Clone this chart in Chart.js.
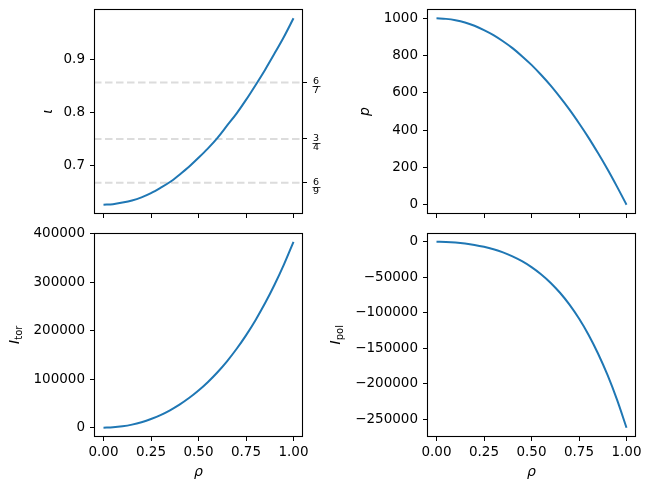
<!DOCTYPE html>
<html>
<head>
<meta charset="utf-8">
<script src="https://cdn.jsdelivr.net/npm/chart.js@4.4.0/dist/chart.umd.min.js"></script>
<style>
  body { margin: 0; background: #fff; }
  #fig { position: relative; width: 651px; height: 491px; overflow: hidden; }
  canvas { position: absolute; }
</style>
</head>
<body>
<div id="fig">
  <canvas id="iotaChart" width="330" height="226" style="left:0;top:0"></canvas>
  <canvas id="pressureChart" width="321" height="226" style="left:330px;top:0"></canvas>
  <canvas id="itorChart" width="330" height="265" style="left:0;top:226px"></canvas>
  <canvas id="ipolChart" width="321" height="265" style="left:330px;top:226px"></canvas>
</div>
<script>
const rho = [0, 0.05, 0.1, 0.15, 0.2, 0.25, 0.3, 0.35, 0.4, 0.45, 0.5, 0.55, 0.6, 0.65, 0.7, 0.75, 0.8, 0.85, 0.9, 0.95, 1];
const iota = [0.625, 0.626, 0.629, 0.633, 0.639, 0.647, 0.657, 0.668, 0.682, 0.697, 0.714, 0.732, 0.752, 0.775, 0.798, 0.824, 0.852, 0.881, 0.912, 0.944, 0.979];
const pressure = [1000, 997, 990, 978, 960, 937, 910, 877, 840, 797, 750, 697, 640, 577, 510, 437, 360, 277, 190, 97, 0];
const iTor = [0, 700, 2820, 6370, 11390, 17950, 26100, 35930, 47540, 61050, 76580, 94280, 114320, 136870, 162120, 190270, 221560, 256220, 294490, 336660, 383000];
const iPol = [0, -260, -1040, -2390, -4360, -7040, -10530, -14960, -20500, -27310, -35610, -45610, -57570, -71770, -88510, -108090, -130880, -157240, -187560, -222270, -261800];

const rhoTicks = [0, 0.25, 0.5, 0.75, 1];
const iotaTicks = [0.7, 0.8, 0.9];
const pressureTicks = [0, 200, 400, 600, 800, 1000];
const iTorTicks = [0, 100000, 200000, 300000, 400000];
const iPolTicks = [0, -50000, -100000, -150000, -200000, -250000];

// rational surfaces marked on the iota plot
const resonances = [6 / 7, 3 / 4, 6 / 9];
const resonanceLabels = [['6', '7'], ['3', '4'], ['6', '9']];

const FONT = "'DejaVu Sans', sans-serif";
const BLUE = '#1f77b4';
Chart.defaults.font.family = FONT;
Chart.defaults.font.size = 13.5;
Chart.defaults.color = '#000';

function padded(values) {
    let lo = Math.min(...values), hi = Math.max(...values);
    let m = (hi - lo) * 0.05;
    return { min: lo - m, max: hi + m };
}

function points(ys) {
    return rho.map((r, i) => ({ x: r, y: ys[i] }));
}

function minus(v) {
    return v < 0 ? '\u2212' + Math.abs(v) : String(v);
}

const tickGrid = { drawOnChartArea: false, tickLength: 4, color: '#000', lineWidth: 1 };

function xScale(showLabels, height) {
    return {
        type: 'linear', min: -0.05, max: 1.05,
        afterBuildTicks: s => { s.ticks = rhoTicks.map(v => ({ value: v })); },
        ticks: { display: showLabels, padding: 3, autoSkip: false, maxRotation: 0, callback: v => v.toFixed(2) },
        grid: tickGrid,
        border: { display: false },
        afterFit: s => { s.height = height; s.paddingLeft = 0; s.paddingRight = 0; }
    };
}

function yScale(range, ticks, width, fmt, position) {
    return {
        type: 'linear', position: position || 'left', min: range.min, max: range.max,
        afterBuildTicks: s => { s.ticks = ticks.map(v => ({ value: v })); },
        ticks: { padding: 5, autoSkip: false, callback: fmt },
        grid: tickGrid,
        border: { display: false },
        afterFit: s => { s.width = width; s.paddingTop = 0; s.paddingBottom = 0; }
    };
}

function drawMath(ctx, spec, x, y, vertical) {
    ctx.save();
    ctx.translate(x, y);
    if (vertical) ctx.rotate(-Math.PI / 2);
    ctx.fillStyle = '#000';
    ctx.textBaseline = 'alphabetic';
    ctx.textAlign = 'left';
    let mainFont = 'italic 14px ' + FONT;
    let subFont = '10px ' + FONT;
    ctx.font = mainFont;
    let mw = ctx.measureText(spec.main).width;
    let sw = 0;
    if (spec.sub) {
        ctx.font = subFont;
        sw = ctx.measureText(spec.sub).width;
    }
    let start = -(mw + sw) / 2;
    ctx.font = mainFont;
    ctx.fillText(spec.main, start, spec.base);
    if (spec.sub) {
        ctx.font = subFont;
        ctx.fillText(spec.sub, start + mw, spec.base + 3);
    }
    ctx.restore();
}

const framePlugin = {
    id: 'frame',
    afterDatasetsDraw(chart) {
        const { ctx, chartArea: a } = chart;
        ctx.save();
        ctx.strokeStyle = '#000';
        ctx.lineWidth = 1.1;
        let l = Math.round(a.left) + 0.5, t = Math.round(a.top) + 0.5;
        let r = Math.round(a.right) - 0.5, b = Math.round(a.bottom) - 0.5;
        ctx.strokeRect(l, t, r - l, b - t);
        ctx.restore();
    }
};

const titlesPlugin = {
    id: 'mathTitles',
    afterDraw(chart, args, opts) {
        const { ctx, chartArea: a } = chart;
        if (opts.x) drawMath(ctx, opts.x, (a.left + a.right) / 2, a.bottom + opts.x.offset, false);
        if (opts.y) drawMath(ctx, opts.y, a.left - opts.y.offset, (a.top + a.bottom) / 2, true);
    }
};

// the bar of each stacked fraction on the right-hand iota axis
const fractionBars = {
    id: 'fractionBars',
    afterDraw(chart) {
        const s = chart.scales.y2;
        if (!s) return;
        const ctx = chart.ctx;
        ctx.save();
        ctx.strokeStyle = '#000';
        ctx.lineWidth = 0.8;
        resonances.forEach(v => {
            let y = Math.round(s.getPixelForValue(v) + 4) + 0.5;
            ctx.beginPath();
            ctx.moveTo(s.left + 9.5, y);
            ctx.lineTo(s.left + 17.5, y);
            ctx.stroke();
        });
        ctx.restore();
    }
};

function curve(ys) {
    return {
        data: points(ys), borderColor: BLUE, borderWidth: 2,
        pointRadius: 0, cubicInterpolationMode: 'monotone', fill: false
    };
}

function panel(id, datasets, scales, padding, titles) {
    return new Chart(document.getElementById(id), {
        type: 'line',
        data: { datasets: datasets },
        options: {
            responsive: false,
            animation: false,
            events: [],
            layout: { padding: padding },
            plugins: { legend: { display: false }, tooltip: { enabled: false }, mathTitles: titles },
            scales: scales
        },
        plugins: [framePlugin, titlesPlugin, fractionBars]
    });
}

// iota with rational surfaces
let iotaRange = padded(iota);
let resonanceSets = resonances.map(v => ({
    data: [{ x: -0.05, y: v }, { x: 1.05, y: v }],
    borderColor: '#dcdcdc', borderWidth: 2, borderDash: [7.5, 3.5], pointRadius: 0
}));
panel('iotaChart', [curve(iota)].concat(resonanceSets), {
    x: xScale(false, 12),
    y: yScale(iotaRange, iotaTicks, 94, v => v.toFixed(1)),
    y2: {
        type: 'linear', position: 'right', min: iotaRange.min, max: iotaRange.max,
        afterBuildTicks: s => { s.ticks = resonances.map(v => ({ value: v })); },
        ticks: {
            padding: 6, autoSkip: false, labelOffset: 4,
            font: { size: 9.5, lineHeight: 0.95 },
            callback: (v, i) => resonanceLabels[i]
        },
        grid: tickGrid,
        border: { display: false },
        afterFit: s => { s.width = 27; s.paddingTop = 0; s.paddingBottom = 0; }
    }
}, { top: 9, right: 0, left: 0, bottom: 0 }, { y: { main: '\u03b9', base: 3, offset: 45 } });

panel('pressureChart', [curve(pressure)], {
    x: xScale(false, 12),
    y: yScale(padded(pressure), pressureTicks, 97, v => String(v))
}, { top: 9, right: 15, left: 0, bottom: 0 }, { y: { main: 'p', base: 2, offset: 60 } });

panel('itorChart', [curve(iTor)], {
    x: xScale(true, 54),
    y: yScale(padded(iTor), iTorTicks, 94, v => String(v))
}, { top: 6.5, right: 27, left: 0, bottom: 0 }, {
    x: { main: '\u03c1', base: 0, offset: 39 },
    y: { main: 'I', sub: 'tor', base: 4, offset: 79 }
});

panel('ipolChart', [curve(iPol)], {
    x: xScale(true, 54),
    y: yScale(padded(iPol), iPolTicks, 97, minus)
}, { top: 6.5, right: 15, left: 0, bottom: 0 }, {
    x: { main: '\u03c1', base: 0, offset: 39 },
    y: { main: 'I', sub: 'pol', base: 4, offset: 91 }
});
</script>
</body>
</html>
